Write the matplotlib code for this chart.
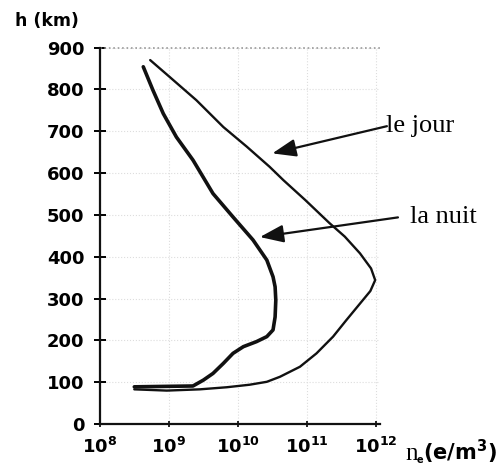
import numpy as np
import matplotlib
matplotlib.use('Agg')
import matplotlib.pyplot as plt

plt.rcParams['mathtext.fontset'] = 'custom'
plt.rcParams['mathtext.rm'] = 'Liberation Serif'
plt.rcParams['mathtext.bf'] = 'DejaVu Sans:bold'

# Night profile (log10 of ne in e/m3, altitude in km)
nuit_log = [8.50, 9.35, 9.50, 9.64, 9.79, 9.93, 10.08, 10.27, 10.42, 10.51, 10.54,
            10.55, 10.54, 10.51, 10.42, 10.22, 9.93, 9.64, 9.35, 9.11, 8.92, 8.77, 8.63]
nuit_h = [89, 91, 105, 121, 145, 169, 185, 197, 209, 225, 256,
          296, 328, 352, 392, 440, 495, 551, 631, 686, 742, 798, 854]

# Day profile
jour_log = [8.50, 8.97, 9.45, 9.84, 10.17, 10.42, 10.61, 10.90, 11.14, 11.38, 11.57,
            11.77, 11.92, 11.99, 11.93, 11.77, 11.55, 11.33, 10.98, 10.66, 10.46,
            10.13, 9.79, 9.40, 9.01, 8.73]
jour_h = [83, 80, 83, 88, 94, 101, 113, 137, 169, 209, 248,
          288, 318, 344, 372, 408, 448, 480, 535, 583, 615,
          663, 710, 774, 830, 870]

yticks = list(range(0, 1000, 100))
xticks = [1e8, 1e9, 1e10, 1e11, 1e12]
xlabels = [r'$\mathbf{10^{8}}$', r'$\mathbf{10^{9}}$', r'$\mathbf{10^{10}}$',
           r'$\mathbf{10^{11}}$', r'$\mathbf{10^{12}}$']

fig = plt.figure(figsize=(5.04, 4.66), dpi=100)
ax = fig.add_axes([0.198, 0.090, 0.556, 0.808])

ax.plot(10 ** np.array(jour_log), jour_h, color='#111111', lw=1.7,
        solid_capstyle='round', solid_joinstyle='round')
ax.plot(10 ** np.array(nuit_log), nuit_h, color='#111111', lw=2.6,
        solid_capstyle='round', solid_joinstyle='round')

ax.set_xscale('log')
ax.set_xlim(1e8, 10 ** 12.06)
ax.set_ylim(0, 900)
ax.set_yticks(yticks)
ax.set_xticks(xticks)
ax.set_xticklabels(xlabels)
ax.minorticks_off()

for s in ['top', 'right']:
    ax.spines[s].set_visible(False)
for s in ['left', 'bottom']:
    ax.spines[s].set_linewidth(1.6)
    ax.spines[s].set_color('#111111')

ax.tick_params(axis='y', direction='inout', length=8, width=1.4, pad=7, labelsize=13)
ax.tick_params(axis='x', direction='inout', length=5, width=1.2, pad=7, labelsize=13)
for lab in ax.get_yticklabels():
    lab.set_fontfamily('DejaVu Sans')
    lab.set_fontweight('bold')

ax.grid(True, color='#dddddd', ls=':', lw=0.8)
ax.axhline(900, color='#999999', ls=':', lw=1.2, clip_on=False)

# annotations
arrow = dict(arrowstyle='-|>,head_length=0.8,head_width=0.3', color='#111111',
             lw=1.6, mutation_scale=18, shrinkA=0, shrinkB=0)
ax.annotate('', xy=(10 ** 10.50, 647), xytext=(10 ** 12.16, 712),
            arrowprops=arrow, annotation_clip=False)
ax.text(10 ** 12.15, 698, 'le jour', fontsize=19, family='Liberation Serif',
        ha='left', va='baseline', clip_on=False)
ax.annotate('', xy=(10 ** 10.32, 447), xytext=(10 ** 12.32, 494),
            arrowprops=arrow, annotation_clip=False)
ax.text(10 ** 12.49, 480, 'la nuit', fontsize=19, family='Liberation Serif',
        ha='left', va='baseline', clip_on=False)

fig.text(0.03, 0.955, 'h (km)', fontsize=12.5, family='DejaVu Sans',
         fontweight='bold', ha='left', va='center')
fig.text(405 / 504, 0.012, 'n', fontsize=18, family='Liberation Serif',
         ha='left', va='baseline')
fig.text(417 / 504, 0.006, 'e', fontsize=7, family='DejaVu Sans',
         fontweight='bold', ha='left', va='baseline')
fig.text(423 / 504, 0.012, r'$\mathbf{(e/m^{3})}$', fontsize=15,
         ha='left', va='baseline')

fig.savefig('out.png', dpi=100)
